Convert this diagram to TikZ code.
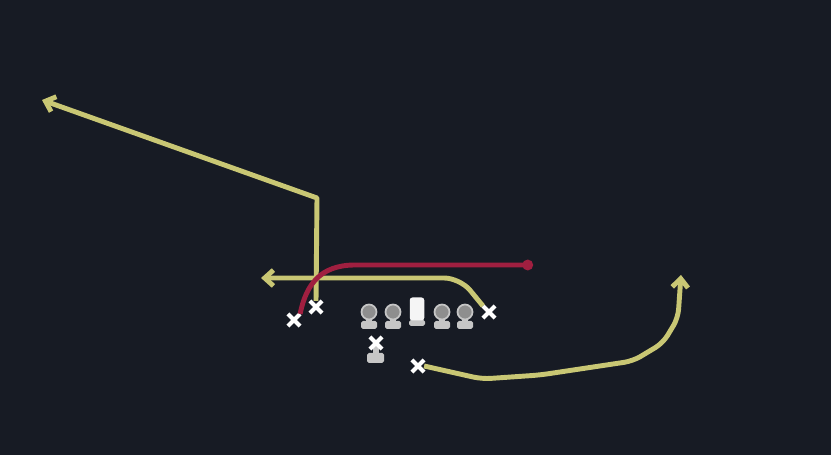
\documentclass[tikz,border=0pt]{standalone}
\usetikzlibrary{arrows.meta,shapes.misc}

\definecolor{field}{HTML}{171B24}
\definecolor{routeY}{HTML}{C9C774}
\definecolor{routeR}{HTML}{A01F40}
\definecolor{headG}{HTML}{8E8E8E}
\definecolor{baseG}{HTML}{C6C6C6}

\tikzset{
  player/.style={cross out, draw=white, line width=2.4pt, minimum size=0.16cm, inner sep=0pt},
  lineman/.style={circle, fill=headG, draw=baseG, line width=1pt, minimum size=0.3cm, inner sep=0pt},
  snapper/.style={rectangle, rounded corners=1.5pt, fill=white!92!gray, minimum width=0.29cm, minimum height=0.46cm, inner sep=0pt},
  route/.style={routeY, line width=2.8pt, line join=round},
  redroute/.style={routeR, line width=2.8pt, line join=round},
}

\begin{document}
\begin{tikzpicture}[x=0.02cm, y=-0.02cm, >={Straight Barb[length=5pt, width=9pt]}]

    \fill[field] (0,0) rectangle (831,455);
    \useasboundingbox (0,0) rectangle (831,455);

    % Line
    \foreach \x/\n in {369/LT, 393/LG, 442/RG, 465/RT} {
      \fill[baseG, rounded corners=1pt] (\x-8,321) rectangle (\x+8,329);
      \fill[baseG] (\x-3,314) rectangle (\x+3,322);
      \node[lineman] (\n) at (\x,312) {};
    }
    \fill[baseG, rounded corners=1pt] (409,320) rectangle (425,326);
    \node[snapper] (C) at (417,309) {};

    % Backfield
    \fill[baseG] (373,346) rectangle (379,355);
    \fill[baseG, rounded corners=1pt] (367,353) rectangle (384,363);
    \node[player] (QB) at (376,343) {};

    % Nodes
    \node[player] (SL) at (294,320) {};
    \node[player] (WL) at (316,307) {};
    \node[player] (TE) at (489,312) {};
    \node[player] (RB) at (418,366) {};
    \coordinate (postEnd) at (42,100);
    \coordinate (flatEnd) at (261,278);
    \coordinate (dragEnd) at (533,265);
    \coordinate (wheelEnd) at (681,275);

    % Routes
    \draw[route, ->] (WL.north) -- (317,198) -- (postEnd);
    \draw[route, ->, rounded corners=9pt] (TE.north west) -- (460,278) -- (flatEnd);
    \draw[route, ->, rounded corners=5pt] (RB.east) -- (482,379) -- (540,375) -- (633,361) -- (663,343) -- (678,318) -- (wheelEnd);
    \draw[redroute, -{Circle[length=6pt]}] (SL.north east) .. controls (306,285) and (320,265) .. (355,265) -- (dragEnd);

\end{tikzpicture}
\end{document}
